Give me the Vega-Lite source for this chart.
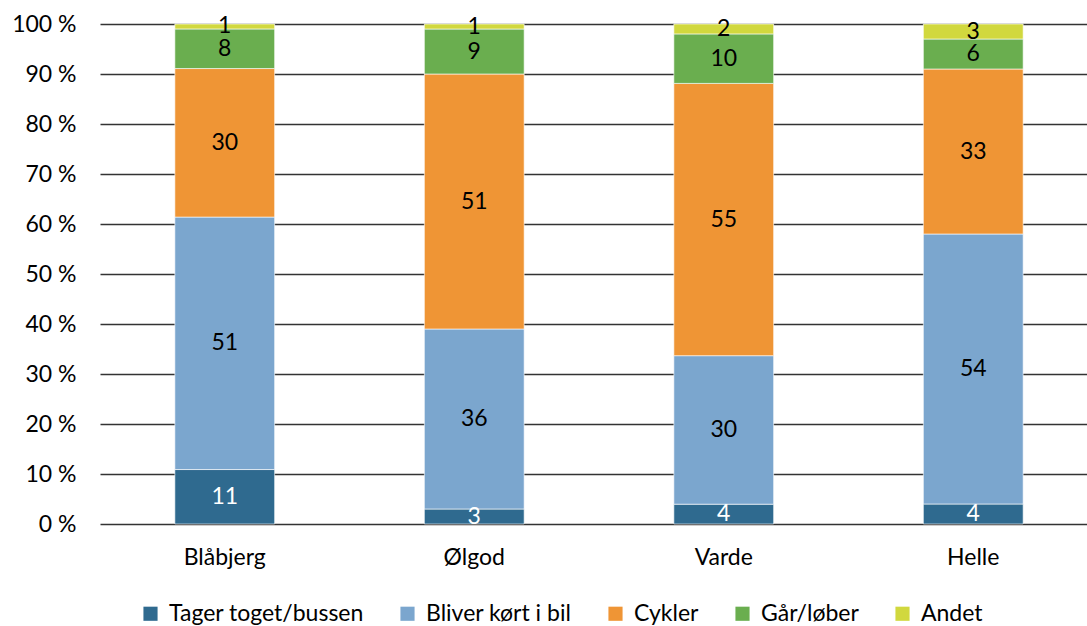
{
  "$schema": "https://vega.github.io/schema/vega-lite/v6.json",
  "autosize": {"type": "none"},
  "width": 987,
  "height": 500,
  "padding": {"left": 100, "top": 24, "right": 0, "bottom": 102},
  "background": "white",
  "config": {
    "font": "Lato",
    "view": {"stroke": null}
  },
  "data": {
    "values": [
      {"sted": "Blåbjerg", "type": "Tager toget/bussen", "ord": 1, "andel": 11},
      {"sted": "Blåbjerg", "type": "Bliver kørt i bil", "ord": 2, "andel": 51},
      {"sted": "Blåbjerg", "type": "Cykler", "ord": 3, "andel": 30},
      {"sted": "Blåbjerg", "type": "Går/løber", "ord": 4, "andel": 8},
      {"sted": "Blåbjerg", "type": "Andet", "ord": 5, "andel": 1},
      {"sted": "Ølgod", "type": "Tager toget/bussen", "ord": 1, "andel": 3},
      {"sted": "Ølgod", "type": "Bliver kørt i bil", "ord": 2, "andel": 36},
      {"sted": "Ølgod", "type": "Cykler", "ord": 3, "andel": 51},
      {"sted": "Ølgod", "type": "Går/løber", "ord": 4, "andel": 9},
      {"sted": "Ølgod", "type": "Andet", "ord": 5, "andel": 1},
      {"sted": "Varde", "type": "Tager toget/bussen", "ord": 1, "andel": 4},
      {"sted": "Varde", "type": "Bliver kørt i bil", "ord": 2, "andel": 30},
      {"sted": "Varde", "type": "Cykler", "ord": 3, "andel": 55},
      {"sted": "Varde", "type": "Går/løber", "ord": 4, "andel": 10},
      {"sted": "Varde", "type": "Andet", "ord": 5, "andel": 2},
      {"sted": "Helle", "type": "Tager toget/bussen", "ord": 1, "andel": 4},
      {"sted": "Helle", "type": "Bliver kørt i bil", "ord": 2, "andel": 54},
      {"sted": "Helle", "type": "Cykler", "ord": 3, "andel": 33},
      {"sted": "Helle", "type": "Går/løber", "ord": 4, "andel": 6},
      {"sted": "Helle", "type": "Andet", "ord": 5, "andel": 3}
    ]
  },
  "transform": [
    {"stack": "andel", "groupby": ["sted"], "sort": [{"field": "ord", "order": "ascending"}], "offset": "normalize", "as": ["y0", "y1"]},
    {"calculate": "(datum.y0 + datum.y1) / 2", "as": "ymid"}
  ],
  "encoding": {
    "x": {
      "field": "sted",
      "type": "nominal",
      "sort": ["Blåbjerg", "Ølgod", "Varde", "Helle"],
      "scale": {"range": [0, 998], "paddingInner": 0.6, "paddingOuter": 0.3},
      "axis": {"title": null, "labelAngle": 0, "labelFontSize": 23, "labelColor": "#000000", "labelPadding": 22, "ticks": false, "domain": false, "grid": false}
    }
  },
  "resolve": {"axis": {"y": "shared"}},
  "layer": [
    {
      "mark": {"type": "bar", "stroke": "white", "strokeWidth": 1, "strokeOpacity": 0.6},
      "encoding": {
        "y": {
          "field": "y0",
          "type": "quantitative",
          "scale": {"domain": [0, 1], "nice": false},
          "axis": {"title": null, "format": ".0%", "labelExpr": "replace(datum.label, '%', ' %')", "values": [0,0.1,0.2,0.3,0.4,0.5,0.6,0.7,0.8,0.9,1], "labelOverlap": false, "labelFontSize": 23, "labelColor": "#000000", "labelPadding": 24, "ticks": false, "domain": false, "grid": true, "gridColor": "#333333", "gridWidth": 1.3}
        },
        "y2": {"field": "y1"},
        "color": {
          "field": "type",
          "type": "nominal",
          "sort": ["Tager toget/bussen", "Bliver kørt i bil", "Cykler", "Går/løber", "Andet"],
          "scale": {
            "domain": ["Tager toget/bussen", "Bliver kørt i bil", "Cykler", "Går/løber", "Andet"],
            "range": ["#2F6A8F", "#7BA6CE", "#EF9535", "#6AAE4F", "#D1D83E"]
          },
          "legend": {
            "title": null,
            "orient": "none",
            "legendX": 39,
            "legendY": 578,
            "direction": "horizontal",
            "columns": 5,
            "symbolType": "square",
            "symbolSize": 200,
            "symbolStrokeWidth": 0,
            "labelFontSize": 23,
            "labelLimit": 400,
            "labelColor": "#000000",
            "labelOffset": 7,
            "columnPadding": 32
          }
        }
      }
    },
    {
      "mark": {"type": "text", "fontSize": 23, "baseline": "middle", "align": "center"},
      "encoding": {
        "y": {
          "field": "ymid",
          "type": "quantitative",
          "axis": {"title": null, "format": ".0%", "labelExpr": "replace(datum.label, '%', ' %')", "values": [0,0.1,0.2,0.3,0.4,0.5,0.6,0.7,0.8,0.9,1], "labelOverlap": false, "labelFontSize": 23, "labelColor": "#000000", "labelPadding": 24, "ticks": false, "domain": false, "grid": true, "gridColor": "#333333", "gridWidth": 1.3}
        },
        "text": {"field": "andel", "type": "quantitative"},
        "color": {
          "condition": {"test": "datum.ord === 1", "value": "#ffffff"},
          "value": "#000000"
        }
      }
    }
  ]
}
